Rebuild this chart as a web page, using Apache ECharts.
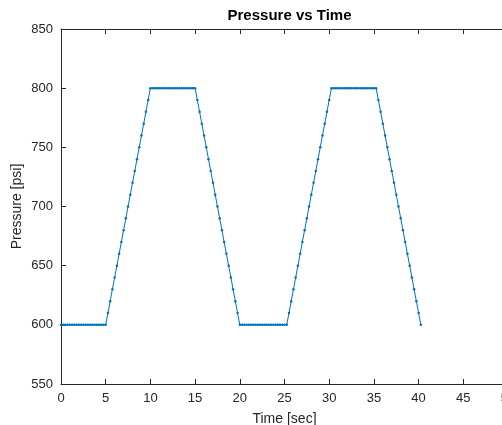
<!DOCTYPE html>
<html>
<head>
<meta charset="utf-8">
<script src="https://cdn.jsdelivr.net/npm/echarts@6/dist/echarts.min.js"></script>
<style>
html,body{margin:0;padding:0;background:#fff;}
#chart{width:502px;height:425px;}
</style>
</head>
<body>
<div id="chart"></div>
<script>
var titleText = 'Pressure vs Time';
var xLabel = 'Time [sec]';
var yLabel = 'Pressure [psi]';

var timeSec = [
  0,0.25,0.5,0.75,1,1.25,1.5,1.75,2,2.25,2.5,2.75,3,3.25,3.5,3.75,4,4.25,4.5,4.75,
  5,5.25,5.5,5.75,6,6.25,6.5,6.75,7,7.25,7.5,7.75,8,8.25,8.5,8.75,9,9.25,9.5,9.75,
  10,10.25,10.5,10.75,11,11.25,11.5,11.75,12,12.25,12.5,12.75,13,13.25,13.5,13.75,14,14.25,14.5,14.75,
  15,15.25,15.5,15.75,16,16.25,16.5,16.75,17,17.25,17.5,17.75,18,18.25,18.5,18.75,19,19.25,19.5,19.75,
  20,20.25,20.5,20.75,21,21.25,21.5,21.75,22,22.25,22.5,22.75,23,23.25,23.5,23.75,24,24.25,24.5,24.75,25,25.25,
  25.5,25.75,26,26.25,26.5,26.75,27,27.25,27.5,27.75,28,28.25,28.5,28.75,29,29.25,29.5,29.75,30,30.25,
  30.5,30.75,31,31.25,31.5,31.75,32,32.25,32.5,32.75,33,33.25,33.5,33.75,34,34.25,34.5,34.75,35,35.25,
  35.5,35.75,36,36.25,36.5,36.75,37,37.25,37.5,37.75,38,38.25,38.5,38.75,39,39.25,39.5,39.75,40,40.25
];

var pressurePsi = [
  600,600,600,600,600,600,600,600,600,600,600,600,600,600,600,600,600,600,600,600,
  600,610,620,630,640,650,660,670,680,690,700,710,720,730,740,750,760,770,780,790,
  800,800,800,800,800,800,800,800,800,800,800,800,800,800,800,800,800,800,800,800,
  800,790,780,770,760,750,740,730,720,710,700,690,680,670,660,650,640,630,620,610,
  600,600,600,600,600,600,600,600,600,600,600,600,600,600,600,600,600,600,600,600,600,600,
  610,620,630,640,650,660,670,680,690,700,710,720,730,740,750,760,770,780,790,800,
  800,800,800,800,800,800,800,800,800,800,800,800,800,800,800,800,800,800,800,800,
  790,780,770,760,750,740,730,720,710,700,690,680,670,660,650,640,630,620,610,600
];

var xTicks = [0,5,10,15,20,25,30,35,40,45,50];
var yTicks = [550,600,650,700,750,800,850];

var points = timeSec.map(function(t, i){ return [t, pressurePsi[i]]; });

var axisColor = '#262626';
var fontFam = '"Liberation Sans", Arial, Helvetica, sans-serif';

var chart = echarts.init(document.getElementById('chart'), null, {renderer:'canvas'});
function baseX(pos, showLabel, name){
  return {
    type:'value', position:pos,
    min:xTicks[0], max:xTicks[xTicks.length-1], interval:xTicks[1]-xTicks[0],
    name: name || '', nameLocation:'middle', nameGap:28, nameMoveOverlap:false,
    nameTextStyle:{color:axisColor, fontSize:14, fontFamily:fontFam},
    axisLine:{show:true, onZero:false, lineStyle:{color:axisColor, width:1}},
    axisTick:{show:true, inside:true, length:5, lineStyle:{color:axisColor}},
    axisLabel:{show:showLabel, color:axisColor, fontSize:13, fontFamily:fontFam, margin:8, hideOverlap:false},
    splitLine:{show:false}
  };
}
function baseY(pos, showLabel, name){
  return {
    type:'value', position:pos,
    min:yTicks[0], max:yTicks[yTicks.length-1], interval:yTicks[1]-yTicks[0],
    name: name || '', nameLocation:'middle', nameGap:37, nameRotate:90, nameMoveOverlap:false,
    nameTextStyle:{color:axisColor, fontSize:14, fontFamily:fontFam},
    axisLine:{show:true, onZero:false, lineStyle:{color:axisColor, width:1}},
    axisTick:{show:true, inside:true, length:5, lineStyle:{color:axisColor}},
    axisLabel:{show:showLabel, color:axisColor, fontSize:13, fontFamily:fontFam, margin:8},
    splitLine:{show:false}
  };
}
chart.setOption({
  animation:false,
  backgroundColor:'#ffffff',
  title:{
    text:titleText, left:284.5, textAlign:'center', top:3,
    textStyle:{color:'#000000', fontSize:15, fontWeight:'bold', fontFamily:fontFam}
  },
  grid:{left:61, top:29, right:-6, bottom:41, containLabel:false, outerBoundsMode:'none'},
  xAxis:[baseX('bottom', true, xLabel), baseX('top', false)],
  yAxis:[baseY('left', true, yLabel), baseY('right', false)],
  series:[{
    type:'line', data:points, xAxisIndex:0, yAxisIndex:0,
    symbol:'circle', symbolSize:2.5, showSymbol:true,
    lineStyle:{color:'#0072BD', width:1},
    itemStyle:{color:'#0072BD'},
    clip:false
  }]
});
</script>
</body>
</html>
